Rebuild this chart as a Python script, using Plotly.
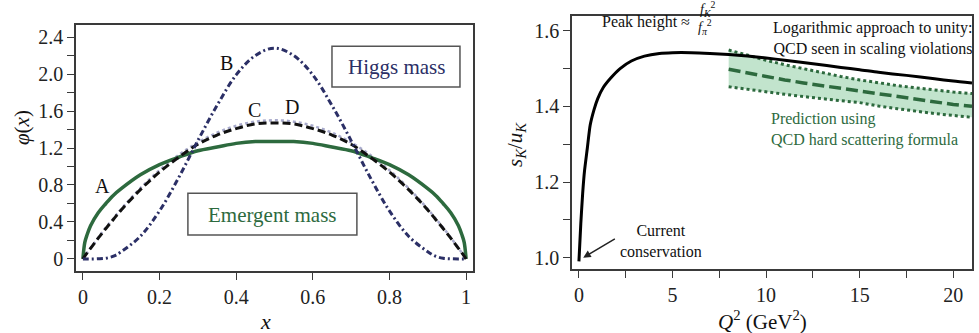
import plotly.graph_objects as go

# ---------------- Left panel data ----------------
x_left = [0, 0.005, 0.01, 0.02, 0.04, 0.06, 0.08, 0.10, 0.15, 0.20, 0.25, 0.30, 0.35, 0.40, 0.45, 0.50,
          0.55, 0.60, 0.65, 0.70, 0.75, 0.80, 0.85, 0.90, 0.92, 0.94, 0.96, 0.98, 0.99, 0.995, 1.0]
curve_A = [0, 0.18, 0.25, 0.36, 0.50, 0.60, 0.69, 0.76, 0.91, 1.02, 1.10, 1.17, 1.21, 1.25, 1.27, 1.27,
           1.27, 1.25, 1.21, 1.17, 1.10, 1.02, 0.91, 0.76, 0.69, 0.60, 0.50, 0.36, 0.25, 0.18, 0]
curve_B = [0, 0.0, 0.0, 0.0, 0.002, 0.008, 0.03, 0.078, 0.246, 0.52, 0.88, 1.28, 1.66, 1.99, 2.20, 2.28,
           2.20, 1.99, 1.66, 1.28, 0.88, 0.52, 0.246, 0.078, 0.03, 0.008, 0.002, 0.0, 0.0, 0.0, 0]
curve_C = [0, 0.03, 0.06, 0.118, 0.23, 0.34, 0.44, 0.54, 0.765, 0.96, 1.125, 1.26, 1.365, 1.44, 1.485, 1.50,
           1.485, 1.44, 1.365, 1.26, 1.125, 0.96, 0.765, 0.54, 0.44, 0.34, 0.23, 0.118, 0.06, 0.03, 0]
curve_D = [0, 0.03, 0.06, 0.115, 0.225, 0.33, 0.43, 0.53, 0.75, 0.94, 1.10, 1.24, 1.34, 1.41, 1.46, 1.47,
           1.46, 1.41, 1.34, 1.24, 1.10, 0.94, 0.75, 0.53, 0.43, 0.33, 0.225, 0.115, 0.06, 0.03, 0]

left_xticks = [0, 0.2, 0.4, 0.6, 0.8, 1.0]
left_xticklabels = ["0", "0.2", "0.4", "0.6", "0.8", "1"]
left_yticks = [0, 0.4, 0.8, 1.2, 1.6, 2.0, 2.4]
left_yticklabels = ["0", "0.4", "0.8", "1.2", "1.6", "2.0", "2.4"]
left_yminor = [0.2, 0.6, 1.0, 1.4, 1.8, 2.2]

# ---------------- Right panel data ----------------
q2 = [0, 0.1, 0.2, 0.3, 0.45, 0.6, 0.8, 1.0, 1.3, 1.7, 2.2, 2.8, 3.5, 4.3, 5, 6, 7, 8, 9, 10, 11,
      12.5, 14, 15, 16, 17.5, 19, 20, 21]
ratio = [0.99, 1.09, 1.17, 1.23, 1.29, 1.35, 1.39, 1.42, 1.45, 1.475, 1.50, 1.52, 1.533, 1.54, 1.542,
         1.542, 1.54, 1.537, 1.533, 1.528, 1.522, 1.513, 1.503, 1.497, 1.49, 1.482, 1.473, 1.467, 1.462]

q2_band = [8, 9, 10, 11, 12, 13, 14, 15, 16, 17, 18, 19, 20, 21]
band_center = [1.498, 1.488, 1.479, 1.470, 1.462, 1.455, 1.448, 1.441, 1.432, 1.425, 1.418, 1.411, 1.405, 1.400]
band_upper = [1.549, 1.535, 1.522, 1.510, 1.499, 1.489, 1.479, 1.470, 1.462, 1.455, 1.449, 1.443, 1.438, 1.434]
band_lower = [1.452, 1.445, 1.438, 1.432, 1.426, 1.420, 1.415, 1.410, 1.401, 1.394, 1.387, 1.381, 1.376, 1.371]

right_xticks = [0, 5, 10, 15, 20]
right_xticklabels = ["0", "5", "10", "15", "20"]
right_xminor = [2.5, 7.5, 12.5, 17.5]
right_yticks = [1.0, 1.2, 1.4, 1.6]
right_yticklabels = ["1.0", "1.2", "1.4", "1.6"]
right_yminor = [1.1, 1.3, 1.5]

FONT = "Liberation Serif"
GREEN = "#2d6a3e"
NAVY = "#2b2f66"
FRAME = "#3a3a3a"
W, H = 979, 333


def px(xp):
    return xp / W


def py(yp):
    return 1 - yp / H


fig = go.Figure()

# Left panel curves
fig.add_trace(go.Scatter(x=x_left, y=curve_C, mode="lines", line=dict(color="#a9abcc", width=2.5, dash="dot", shape="spline"),
                         xaxis="x", yaxis="y", showlegend=False))
fig.add_trace(go.Scatter(x=x_left, y=curve_A, mode="lines", line=dict(color=GREEN, width=3.5, shape="spline"),
                         xaxis="x", yaxis="y", showlegend=False))
fig.add_trace(go.Scatter(x=x_left, y=curve_D, mode="lines", line=dict(color="#111111", width=3, dash="8px,4px", shape="spline"),
                         xaxis="x", yaxis="y", showlegend=False))
fig.add_trace(go.Scatter(x=x_left, y=curve_B, mode="lines", line=dict(color=NAVY, width=3, dash="6px,3px,2px,3px", shape="spline"),
                         xaxis="x", yaxis="y", showlegend=False))

# Right panel band
fig.add_trace(go.Scatter(x=q2_band, y=band_lower, mode="lines", line=dict(color=GREEN, width=3, dash="dot"),
                         xaxis="x2", yaxis="y2", showlegend=False))
fig.add_trace(go.Scatter(x=q2_band, y=band_upper, mode="lines", line=dict(color=GREEN, width=3, dash="dot"),
                         fill="tonexty", fillcolor="rgba(120,195,145,0.45)",
                         xaxis="x2", yaxis="y2", showlegend=False))
fig.add_trace(go.Scatter(x=q2_band, y=band_center, mode="lines", line=dict(color=GREEN, width=3.5, dash="12px,5px"),
                         xaxis="x2", yaxis="y2", showlegend=False))
fig.add_trace(go.Scatter(x=q2, y=ratio, mode="lines", line=dict(color="#000000", width=3, shape="spline", smoothing=0.6),
                         xaxis="x2", yaxis="y2", showlegend=False))

axis_common = dict(showline=True, linecolor=FRAME, linewidth=1.5, mirror=True, ticks="outside", ticklen=7,
                   tickwidth=1.2, tickcolor=FRAME, showgrid=False, zeroline=False,
                   tickfont=dict(family=FONT, size=20, color="#222222"))

fig.update_layout(
    width=W, height=H,
    margin=dict(l=0, r=0, t=0, b=0),
    paper_bgcolor="white", plot_bgcolor="white",
    font=dict(family=FONT),
    xaxis=dict(domain=[px(76), px(473)], range=[-0.018, 1.018], tickmode="array", tickvals=left_xticks,
               ticktext=left_xticklabels, anchor="y", **axis_common),
    yaxis=dict(domain=[py(271), py(25)], range=[-0.13, 2.53], tickmode="array", tickvals=left_yticks,
               ticktext=left_yticklabels, anchor="x",
               minor=dict(tickmode="array", tickvals=left_yminor, ticks="outside", ticklen=7, tickcolor=FRAME),
               **axis_common),
    xaxis2=dict(domain=[px(572), px(972)], range=[-0.37, 21.0], tickmode="array", tickvals=right_xticks,
                ticktext=right_xticklabels, anchor="y2",
                minor=dict(tickmode="array", tickvals=right_xminor, ticks="outside", ticklen=7, tickcolor=FRAME),
                **axis_common),
    yaxis2=dict(domain=[py(269), py(16)], range=[0.97, 1.639], tickmode="array", tickvals=right_yticks,
                ticktext=right_yticklabels, anchor="x2",
                minor=dict(tickmode="array", tickvals=right_yminor, ticks="outside", ticklen=7, tickcolor=FRAME),
                **axis_common),
)

# Boxes (left panel)
fig.add_shape(type="rect", xref="x", yref="y", x0=0.650, x1=0.984, y0=1.86, y1=2.30,
              line=dict(color="#555555", width=1.5), fillcolor="rgba(0,0,0,0)")
fig.add_shape(type="rect", xref="x", yref="y", x0=0.274, x1=0.715, y0=0.26, y1=0.71,
              line=dict(color="#555555", width=1.5), fillcolor="rgba(0,0,0,0)")

ann = []


def t(text, x, y, xref, yref, size=20, color="#111111", xanchor="center", yanchor="middle", align="center", angle=0):
    ann.append(dict(text=text, x=x, y=y, xref=xref, yref=yref, showarrow=False, xanchor=xanchor,
                    yanchor=yanchor, align=align, textangle=angle,
                    font=dict(family=FONT, size=size, color=color)))


# Left labels
t("A", 0.05, 0.79, "x", "y")
t("B", 0.376, 2.12, "x", "y")
t("C", 0.449, 1.61, "x", "y")
t("D", 0.545, 1.64, "x", "y")
t("Higgs mass", 0.819, 2.076, "x", "y", size=21, color=NAVY)
t("Emergent mass", 0.494, 0.476, "x", "y", size=21, color=GREEN)
t("<i>φ</i>(<i>x</i>)", px(22), py(128), "paper", "paper", size=21, angle=-90)
t("<i>x</i>", px(265), py(321), "paper", "paper", size=22)

# Right labels
t("Peak height ≈", px(692), py(22), "paper", "paper", size=16, xanchor="right")
t("<i>f</i><sub><i>K</i></sub><sup>2</sup>", px(707), py(9), "paper", "paper", size=14)
t("<i>f</i><sub><i>π</i></sub><sup>2</sup>", px(705), py(27), "paper", "paper", size=14)
t("Logarithmic approach to unity:<br>QCD seen in scaling violations", px(975), py(38.5), "paper", "paper",
  size=16, xanchor="right", align="right")
t("Prediction using<br>QCD hard scattering formula", px(769), py(129), "paper", "paper",
  size=16, color=GREEN, xanchor="left", align="left")
t("Current<br>conservation", px(661), py(240.5), "paper", "paper", size=16)
t("<i>s</i><sub><i>K</i></sub>/<i>u</i><sub><i>K</i></sub>", px(516), py(145), "paper", "paper", size=21, angle=-90)
t("<i>Q</i><sup>2</sup> (GeV<sup>2</sup>)", px(762), py(320), "paper", "paper", size=21)

ann.append(dict(x=0.23, y=1.0, xref="x2", yref="y2", ax=2.0, ay=1.052, axref="x2", ayref="y2",
                showarrow=True, arrowhead=2, arrowsize=1, arrowwidth=1.5, arrowcolor="#222222", text=""))

fig.update_layout(annotations=ann)

fig.write_html("out.html", config={"displayModeBar": False},
               post_script="document.body.style.margin='0';document.body.style.overflow='hidden';")
